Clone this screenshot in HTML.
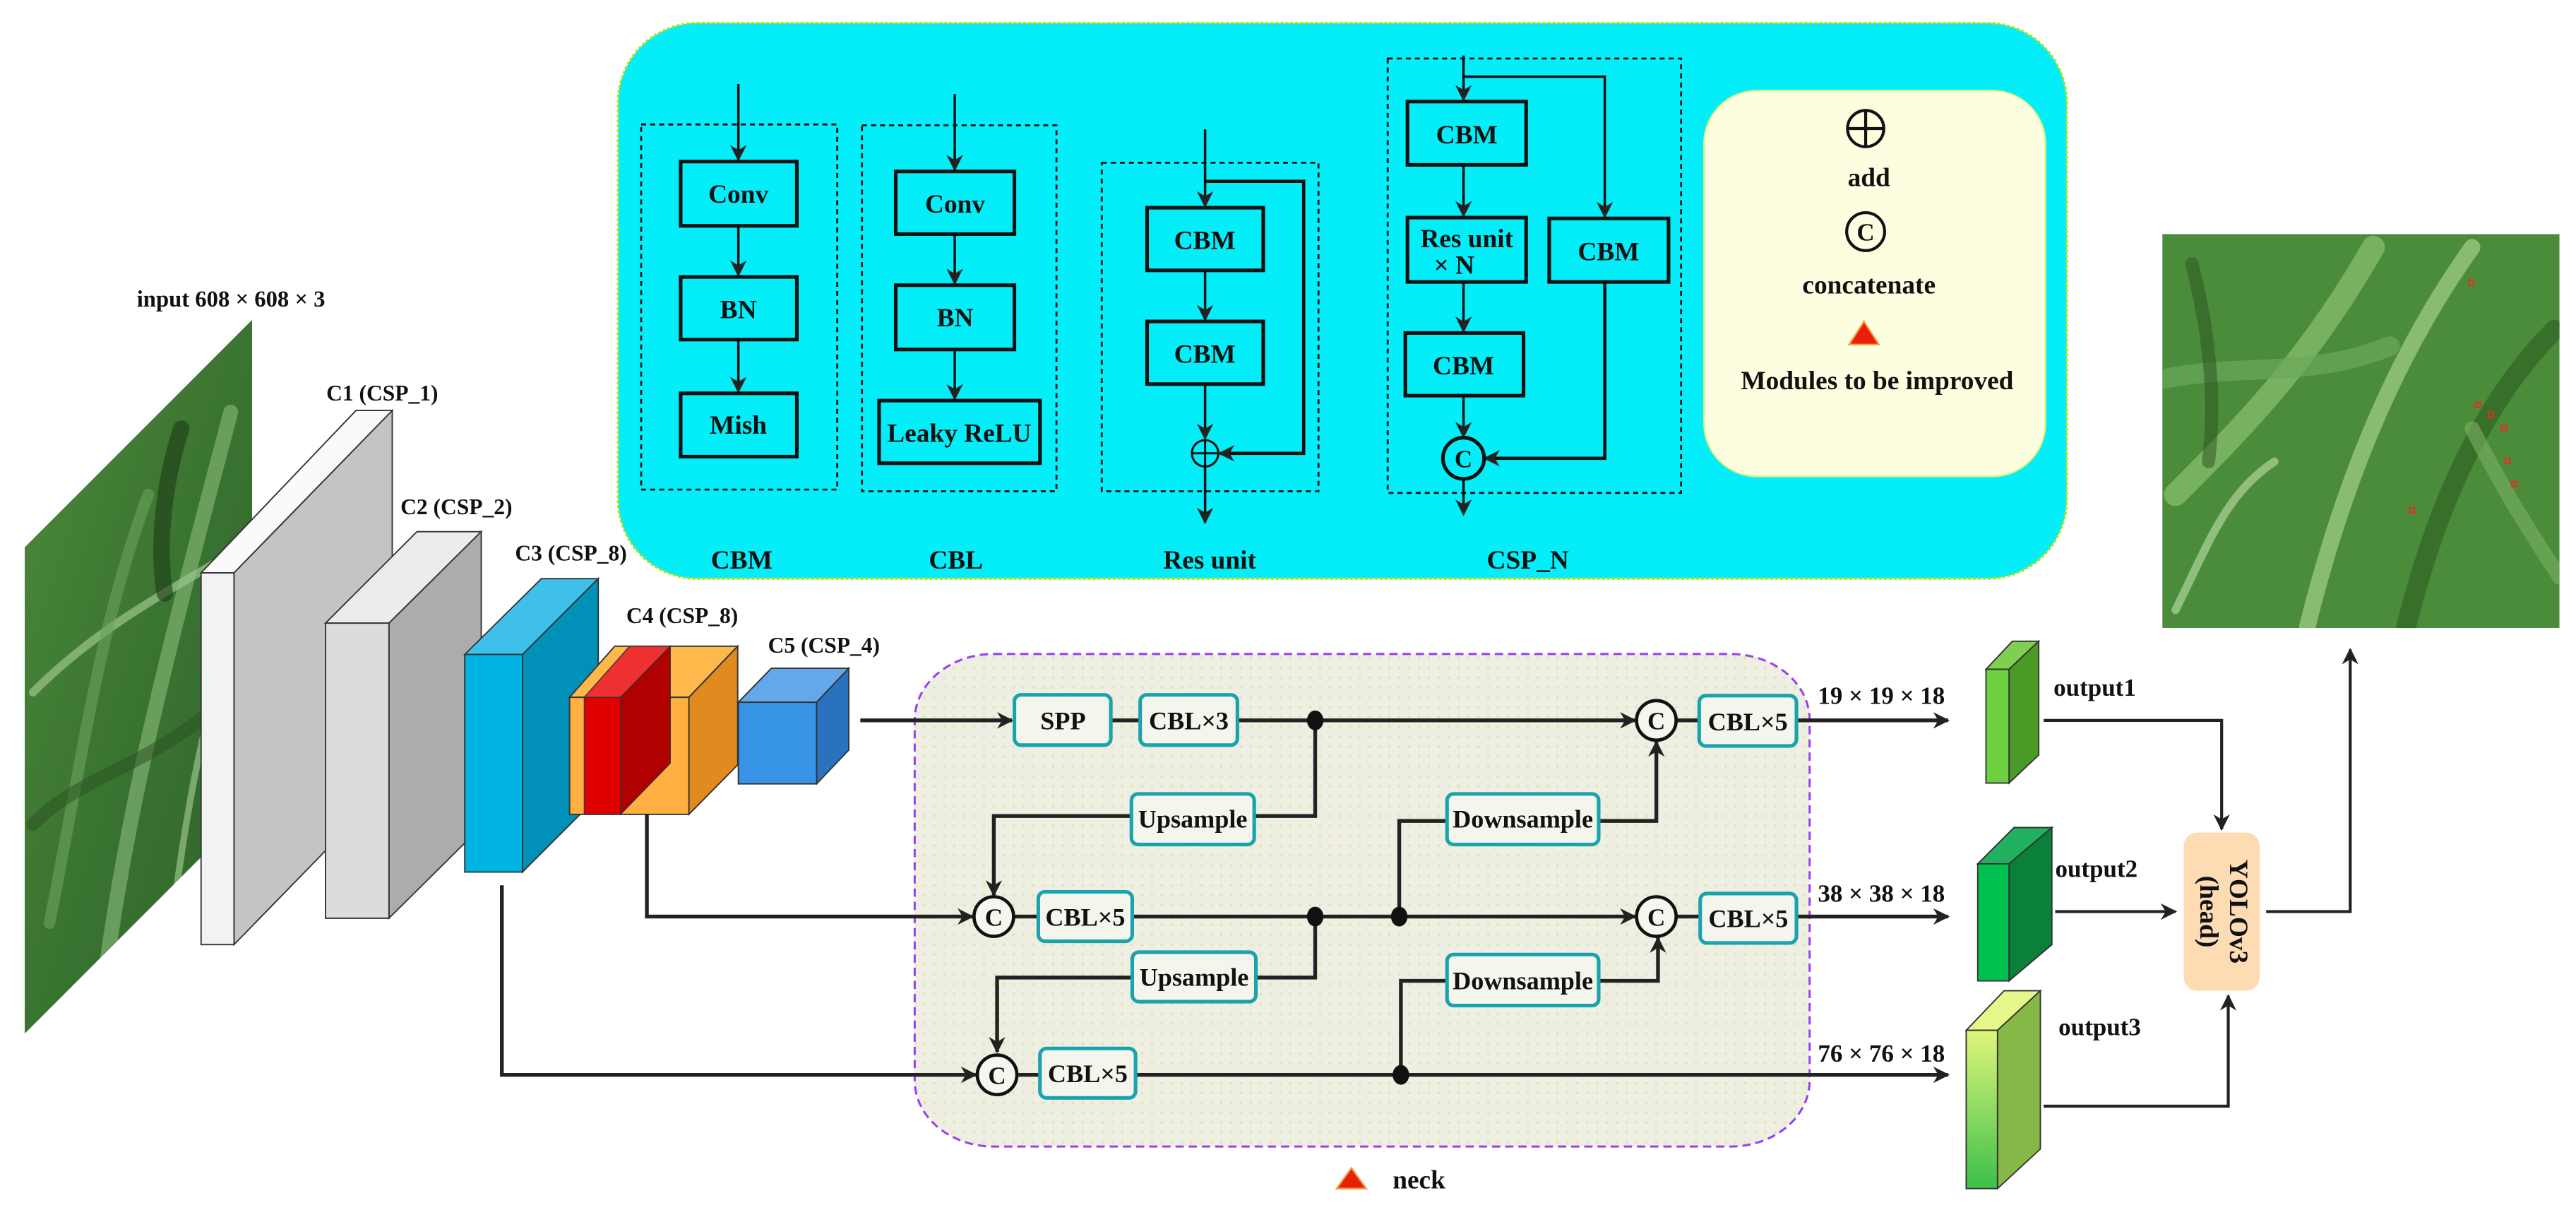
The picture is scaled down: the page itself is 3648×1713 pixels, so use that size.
<!DOCTYPE html>
<html><head><meta charset="utf-8"><style>
html,body{margin:0;padding:0;background:#fff;}
svg{display:block;}
text{font-family:"Liberation Serif",serif;font-weight:bold;fill:#111;}
</style></head><body>
<svg width="3648" height="1713" viewBox="0 0 1563 734" preserveAspectRatio="none" xmlns="http://www.w3.org/2000/svg">
<defs>
<marker id="ah" viewBox="0 0 10 10" refX="9" refY="5" markerWidth="5" markerHeight="5" orient="auto" markerUnits="userSpaceOnUse"><path d="M0,0 L10,5 L0,10 z" fill="#222"/></marker>
<marker id="ab" viewBox="0 0 10 10" refX="9" refY="5" markerWidth="10" markerHeight="10" orient="auto" markerUnits="userSpaceOnUse"><path d="M0,0 L10,5 L0,10 L3,5 z" fill="#222"/></marker>
<pattern id="dots" width="6" height="6" patternUnits="userSpaceOnUse"><rect width="6" height="6" fill="#eeeee2"/><circle cx="3" cy="3" r="0.9" fill="#e2e6b8"/></pattern>
<linearGradient id="g1" x1="0" y1="0" x2="1" y2="1"><stop offset="0" stop-color="#4e8a3c"/><stop offset="0.5" stop-color="#3a7431"/><stop offset="1" stop-color="#2c6228"/></linearGradient>
<linearGradient id="g3" x1="0" y1="0" x2="0" y2="1"><stop offset="0" stop-color="#dff57a"/><stop offset="1" stop-color="#3cc04a"/></linearGradient>
<clipPath id="cin"><polygon points="15,332 153,194 153,489 15,627"/></clipPath>
<clipPath id="cout"><rect x="1312" y="142" width="241" height="239"/></clipPath>
</defs>

<!-- Top panel -->
<rect x="375" y="14" width="879" height="337" rx="48" ry="48" fill="#03eef8" stroke="#b8e000" stroke-width="1.5" stroke-dasharray="1.5 1.5"/>
<g fill="none" stroke="#111" stroke-width="1.2" stroke-dasharray="3 2.5">
<rect x="389" y="75.5" width="119" height="221.5"/>
<rect x="523" y="76" width="118" height="222"/>
<rect x="668.5" y="98.7" width="131.5" height="199.3"/>
<rect x="842" y="35.5" width="178" height="263.5"/>
</g>
<g fill="#03eef8" stroke="#111" stroke-width="2.2">
<rect x="413" y="98" width="70.5" height="39"/>
<rect x="413" y="168" width="70.5" height="38"/>
<rect x="413" y="238.6" width="70.5" height="38.4"/>
<rect x="543.5" y="104" width="72" height="38"/>
<rect x="543.5" y="173" width="72" height="39"/>
<rect x="533.4" y="243" width="97.6" height="38"/>
<rect x="696" y="126" width="70.5" height="38"/>
<rect x="696" y="195" width="70.5" height="38"/>
<rect x="854" y="61.6" width="72" height="38.4"/>
<rect x="854" y="132" width="72" height="39"/>
<rect x="940" y="132.5" width="72.4" height="38.5"/>
<rect x="852.7" y="202" width="71.7" height="38"/>
</g>
<g stroke="#111" stroke-width="1.5" fill="none" marker-end="url(#ab)">
<line x1="448" y1="51" x2="448" y2="97"/>
<line x1="448" y1="137" x2="448" y2="167"/>
<line x1="448" y1="206" x2="448" y2="237.6"/>
<line x1="579.3" y1="57" x2="579.3" y2="103"/>
<line x1="579.3" y1="142" x2="579.3" y2="172"/>
<line x1="579.3" y1="212" x2="579.3" y2="242"/>
<line x1="731.2" y1="78.5" x2="731.2" y2="125"/>
<line x1="731.2" y1="164" x2="731.2" y2="194"/>
<line x1="731.2" y1="233" x2="731.2" y2="266"/>
<line x1="731.2" y1="283" x2="731.2" y2="317"/>
<polyline points="731.2,110 791,110 791,275 740,275" stroke-width="2"/>
<line x1="888" y1="33.7" x2="888" y2="60.6"/>
<polyline points="888,46.5 973.7,46.5 973.7,131.5"/>
<line x1="888" y1="100" x2="888" y2="131"/>
<line x1="888" y1="171" x2="888" y2="201"/>
<line x1="888" y1="240" x2="888" y2="265"/>
<polyline points="973.7,171 973.7,278 901,278" stroke-width="2"/>
<line x1="888" y1="291" x2="888" y2="312"/>
</g>
<g fill="none" stroke="#111" stroke-width="1.3">
<circle cx="731.2" cy="275" r="8"/><line x1="723" y1="275" x2="739.4" y2="275"/><line x1="731.2" y1="267" x2="731.2" y2="283"/>
</g>
<circle cx="888" cy="278" r="12.5" fill="#03eef8" stroke="#111" stroke-width="2.2"/>
<text x="888" y="283.5" font-size="15" text-anchor="middle">C</text>
<g font-size="16" text-anchor="middle">
<text x="448" y="123">Conv</text>
<text x="448" y="193">BN</text>
<text x="448" y="263">Mish</text>
<text x="579.5" y="129">Conv</text>
<text x="579.5" y="198">BN</text>
<text x="582" y="268">Leaky ReLU</text>
<text x="731" y="151">CBM</text>
<text x="731" y="220">CBM</text>
<text x="890" y="87">CBM</text>
<text x="890" y="150">Res unit</text>
<text x="870" y="166" text-anchor="start">× N</text>
<text x="976" y="158">CBM</text>
<text x="888" y="227">CBM</text>
<text x="450" y="345">CBM</text>
<text x="580" y="345">CBL</text>
<text x="734" y="345">Res unit</text>
<text x="927" y="345">CSP_N</text>
</g>
<!-- legend -->
<rect x="1034" y="55" width="207" height="234" rx="32" ry="32" fill="#fdfde0" stroke="#e8f080" stroke-width="1"/>
<g fill="none" stroke="#111" stroke-width="1.8">
<circle cx="1132" cy="78" r="11"/><line x1="1121" y1="78" x2="1143" y2="78"/><line x1="1132" y1="67" x2="1132" y2="89"/>
<circle cx="1132" cy="140.5" r="11.5"/>
</g>
<text x="1132" y="146" font-size="15" text-anchor="middle">C</text>
<polygon points="1131,195 1140,209 1122,209" fill="#e8200a" stroke="#f0a040" stroke-width="1"/>
<g font-size="16" text-anchor="middle">
<text x="1134" y="113">add</text>
<text x="1134" y="178">concatenate</text>
<text x="1139" y="236">Modules to be improved</text>
</g>

<!-- input image -->
<g clip-path="url(#cin)">
<rect x="15" y="194" width="140" height="435" fill="url(#g1)"/>
<g fill="none" stroke-linecap="round">
<path d="M60,620 C75,500 95,420 140,250" stroke="#7fb070" stroke-width="9" opacity="0.7"/>
<path d="M20,420 C60,380 100,360 150,330" stroke="#9cc68a" stroke-width="5" opacity="0.7"/>
<path d="M30,560 C50,460 60,380 90,300" stroke="#6aa35a" stroke-width="7" opacity="0.6"/>
<path d="M100,600 C110,500 125,420 150,360" stroke="#a9d197" stroke-width="4" opacity="0.6"/>
<path d="M20,500 C50,470 80,470 130,430" stroke="#2a5020" stroke-width="8" opacity="0.5"/>
<path d="M110,260 C100,290 95,330 100,360" stroke="#1e3a18" stroke-width="10" opacity="0.6"/>
</g>
</g>
<text x="83" y="186" font-size="14">input  608 × 608 × 3</text>

<!-- C1 -->
<polygon points="122,347.5 216,249 238,249 142,347.5" fill="#fafafa" stroke="#333" stroke-width="0.8"/>
<polygon points="142,347.5 238,249 238,474.5 142,573" fill="#c4c4c4" stroke="#333" stroke-width="0.8"/>
<rect x="122" y="347.5" width="20" height="225.5" fill="#f2f2f2" stroke="#333" stroke-width="0.8"/>
<text x="198" y="243" font-size="13.5">C1 (CSP_1)</text>
<!-- C2 -->
<polygon points="197.5,378 253,322.5 292,322.5 236,378" fill="#ececec" stroke="#333" stroke-width="0.8"/>
<polygon points="236,378 292,322.5 292,501.5 236,557" fill="#acacac" stroke="#333" stroke-width="0.8"/>
<rect x="197.5" y="378" width="38.5" height="179" fill="#dcdcdc" stroke="#333" stroke-width="0.8"/>
<text x="243" y="312" font-size="13.5">C2 (CSP_2)</text>
<!-- C3 -->
<polygon points="282,397 328.5,351 363,351 317,397" fill="#3ec0ea" stroke="#333" stroke-width="0.8"/>
<polygon points="317,397 363,351 363,483 317,529" fill="#0090b8" stroke="#333" stroke-width="0.8"/>
<rect x="282" y="397" width="35" height="132" fill="#00b4e2" stroke="#333" stroke-width="0.8"/>
<text x="312.5" y="340" font-size="13.5">C3 (CSP_8)</text>
<!-- C4 -->
<polygon points="345.6,423 373,392 447.6,392 418,423" fill="#ffb84a" stroke="#333" stroke-width="0.8"/>
<polygon points="418,423 447.6,392 447.6,464 418,494" fill="#e08a20" stroke="#333" stroke-width="0.8"/>
<rect x="345.6" y="423" width="72.4" height="71" fill="#ffb040" stroke="#333" stroke-width="0.8"/>
<polygon points="354.5,423 382,392 406.7,392 376.5,423" fill="#ee3030" stroke="#333" stroke-width="0.6"/>
<polygon points="376.5,423 406.7,392 406.7,463 376.5,494" fill="#b00000" stroke="#333" stroke-width="0.6"/>
<rect x="354.5" y="423" width="22" height="71" fill="#e00000" stroke="#333" stroke-width="0.6"/>
<text x="380" y="378" font-size="13.5">C4 (CSP_8)</text>
<!-- C5 -->
<polygon points="448,426 468,405.4 515,405.4 495.5,426" fill="#62a8ea" stroke="#333" stroke-width="0.8"/>
<polygon points="495.5,426 515,405.4 515,455 495.5,475.5" fill="#2a72be" stroke="#333" stroke-width="0.8"/>
<rect x="448" y="426" width="47.5" height="49.5" fill="#3794e6" stroke="#333" stroke-width="0.8"/>
<text x="466" y="396" font-size="13.5">C5 (CSP_4)</text>

<!-- neck -->
<rect x="555" y="396.7" width="543" height="298.8" rx="48" ry="40" fill="url(#dots)" stroke="#9a40f0" stroke-width="1.3" stroke-dasharray="5 3"/>
<g stroke="#222" stroke-width="2.3" fill="none">
<line x1="522" y1="437" x2="614" y2="437" marker-end="url(#ab)"/>
<line x1="674" y1="437" x2="692" y2="437"/>
<line x1="751" y1="437" x2="992" y2="437" marker-end="url(#ab)"/>
<line x1="1017" y1="437" x2="1031" y2="437"/>
<line x1="1090" y1="437" x2="1182" y2="437" marker-end="url(#ab)"/>
<polyline points="798,437 798,495 761,495"/>
<polyline points="686.5,495 603,495 603,543" marker-end="url(#ab)"/>
<polyline points="849,557 849,498 878,498"/>
<polyline points="970,498 1005,498 1005,450" marker-end="url(#ab)"/>
<polyline points="392.5,494 392.5,556 590,556" marker-end="url(#ab)"/>
<line x1="615" y1="556" x2="630" y2="556"/>
<line x1="687" y1="556" x2="992" y2="556" marker-end="url(#ab)"/>
<line x1="1017" y1="556" x2="1031" y2="556"/>
<line x1="1090" y1="556" x2="1182" y2="556" marker-end="url(#ab)"/>
<polyline points="798,556 798,593 762,593"/>
<polyline points="687,593 605,593 605,638" marker-end="url(#ab)"/>
<polyline points="850,652 850,595 878,595"/>
<polyline points="970,595 1006,595 1006,569" marker-end="url(#ab)"/>
<polyline points="304.5,537 304.5,652 592,652" marker-end="url(#ab)"/>
<line x1="618" y1="652" x2="631" y2="652"/>
<line x1="689" y1="652" x2="1182" y2="652" marker-end="url(#ab)"/>
</g>
<g fill="#111">
<ellipse cx="798" cy="437" rx="5" ry="6"/>
<ellipse cx="798" cy="556" rx="5" ry="6"/>
<ellipse cx="849" cy="556" rx="5" ry="6"/>
<ellipse cx="850" cy="652" rx="5" ry="6"/>
</g>
<g fill="#f6f6ee" stroke="#111" stroke-width="2">
<circle cx="1005" cy="437" r="12"/>
<circle cx="603" cy="556" r="12"/>
<circle cx="1005" cy="556" r="12"/>
<circle cx="605" cy="652" r="12"/>
</g>
<g font-size="15" text-anchor="middle">
<text x="1005" y="442.5">C</text>
<text x="603" y="561.5">C</text>
<text x="1005" y="561.5">C</text>
<text x="605" y="657.5">C</text>
</g>
<g fill="#f4f6ee" stroke="#1aa3ac" stroke-width="2.2">
<rect x="615.5" y="421.5" width="58.5" height="30.5" rx="4"/>
<rect x="691.8" y="421.5" width="59" height="30.5" rx="4"/>
<rect x="1031" y="422" width="59" height="30.5" rx="4"/>
<rect x="686.5" y="481.6" width="74.5" height="30.7" rx="4"/>
<rect x="878" y="481.6" width="92" height="30.7" rx="4"/>
<rect x="630" y="541" width="57" height="30" rx="4"/>
<rect x="1031.6" y="542" width="58.4" height="30" rx="4"/>
<rect x="687" y="577.6" width="75" height="30" rx="4"/>
<rect x="878" y="579" width="92" height="31" rx="4"/>
<rect x="631" y="636" width="58" height="30" rx="4"/>
</g>
<g font-size="15.5" text-anchor="middle">
<text x="645" y="442.5">SPP</text>
<text x="721.3" y="442.5">CBL×3</text>
<text x="1060.5" y="443">CBL×5</text>
<text x="723.7" y="502">Upsample</text>
<text x="924" y="502">Downsample</text>
<text x="658.5" y="561.5">CBL×5</text>
<text x="1060.8" y="562.5">CBL×5</text>
<text x="724.5" y="598">Upsample</text>
<text x="924" y="600">Downsample</text>
<text x="660" y="656.5">CBL×5</text>
</g>
<g font-size="15">
<text x="1103" y="427">19 × 19 × 18</text>
<text x="1103" y="547">38 × 38 × 18</text>
<text x="1103" y="644">76 × 76 × 18</text>
</g>
<polygon points="820,708.5 829,721 811,721" fill="#e8200a" stroke="#f0a040" stroke-width="1"/>
<text x="845" y="721" font-size="16">neck</text>

<!-- outputs -->
<polygon points="1205,406 1221,389 1237,389 1219,406" fill="#7fd050" stroke="#333" stroke-width="0.8"/>
<polygon points="1219,406 1237,389 1237,458 1219,475" fill="#4a9a28" stroke="#333" stroke-width="0.8"/>
<rect x="1205" y="406" width="14" height="69" fill="#6cd040" stroke="#333" stroke-width="0.8"/>
<polygon points="1200,524 1222,502 1245,502 1219,524" fill="#20b060" stroke="#333" stroke-width="0.8"/>
<polygon points="1219,524 1245,502 1245,573 1219,595" fill="#0a8038" stroke="#333" stroke-width="0.8"/>
<rect x="1200" y="524" width="19" height="71" fill="#00c050" stroke="#333" stroke-width="0.8"/>
<polygon points="1193,625 1216,601 1238,601 1212,625" fill="#e6f78a" stroke="#333" stroke-width="0.8"/>
<polygon points="1212,625 1238,601 1238,697 1212,721" fill="#86b848" stroke="#333" stroke-width="0.8"/>
<rect x="1193" y="625" width="19" height="96" fill="url(#g3)" stroke="#333" stroke-width="0.8"/>
<g font-size="15">
<text x="1246" y="422">output1</text>
<text x="1247" y="532">output2</text>
<text x="1249" y="628">output3</text>
</g>
<rect x="1325" y="505" width="46" height="96" rx="8" fill="#fddcb4"/>
<g font-size="16" text-anchor="middle">
<text transform="translate(1353,553) rotate(90)">YOLOv3</text>
<text transform="translate(1335,553) rotate(90)">(head)</text>
</g>
<g stroke="#222" stroke-width="1.8" fill="none">
<polyline points="1240,437 1348,437 1348,503" marker-end="url(#ab)"/>
<line x1="1247" y1="553" x2="1320" y2="553" marker-end="url(#ab)"/>
<polyline points="1240,671 1352,671 1352,604" marker-end="url(#ab)"/>
<polyline points="1375,553 1426,553 1426,394" marker-end="url(#ab)"/>
</g>

<!-- output image -->
<g clip-path="url(#cout)">
<rect x="1312" y="142" width="241" height="239" fill="#4a8c3a"/>
<g fill="none" stroke-linecap="round">
<path d="M1320,300 C1360,260 1400,220 1440,150" stroke="#8cc070" stroke-width="14" opacity="0.7"/>
<path d="M1400,380 C1420,300 1450,220 1500,150" stroke="#a4cf88" stroke-width="10" opacity="0.7"/>
<path d="M1312,230 C1360,220 1400,230 1450,210" stroke="#6aa85a" stroke-width="12" opacity="0.7"/>
<path d="M1460,380 C1480,300 1510,240 1550,200" stroke="#2d5c22" stroke-width="12" opacity="0.6"/>
<path d="M1320,370 C1340,330 1350,300 1380,280" stroke="#c2e0a8" stroke-width="5" opacity="0.6"/>
<path d="M1500,260 C1520,300 1540,330 1553,350" stroke="#7ab060" stroke-width="9" opacity="0.6"/>
<path d="M1330,160 C1340,200 1345,240 1340,280" stroke="#2a5020" stroke-width="8" opacity="0.5"/>
</g>
<g fill="none" stroke="#ff2020" stroke-width="0.8">
<rect x="1498" y="170" width="3" height="3"/><rect x="1502" y="244" width="3" height="3"/>
<rect x="1510" y="250" width="3" height="3"/><rect x="1518" y="258" width="3" height="3"/>
<rect x="1520" y="278" width="3" height="3"/><rect x="1524" y="292" width="3" height="3"/>
<rect x="1462" y="308" width="3" height="3"/>
</g>
</g>
</svg>
</body></html>
